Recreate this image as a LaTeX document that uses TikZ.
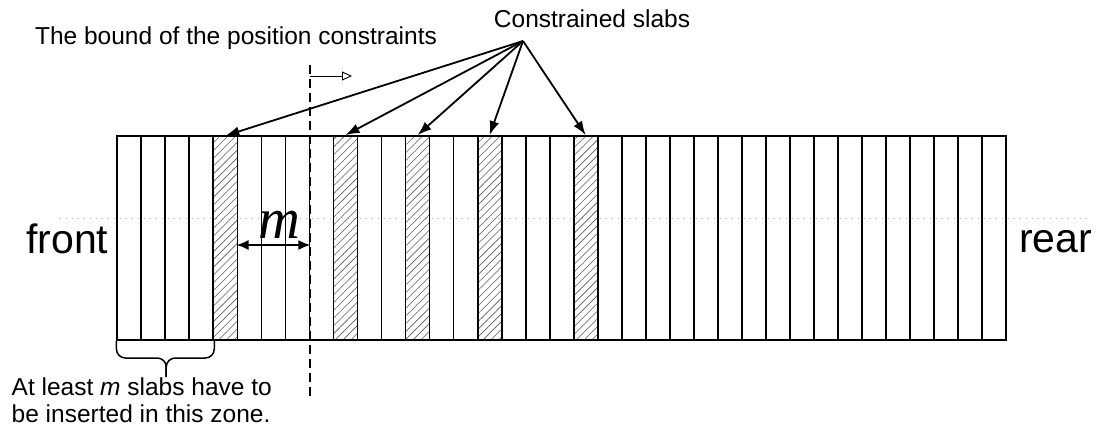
\documentclass[tikz,border=0pt]{standalone}
\usepackage{fontspec}
\setmainfont{Liberation Sans}
\newfontfamily\mfont{Liberation Serif}
\usetikzlibrary{arrows.meta,patterns.meta}

\begin{document}
\begin{tikzpicture}[x=1pt, y=-1pt,
    slab/.style={draw, line width=1.8pt, minimum width=24.02pt, minimum height=204pt, inner sep=0pt},
    hatch/.style={slab, pattern={Lines[angle=45, distance=5.5pt, line width=0.6pt]}, pattern color=black!65},
    lbl/.style={font=\fontsize{24.5}{27}\selectfont, inner sep=0pt},
    side/.style={font=\fontsize{41}{41}\selectfont, inner sep=0pt},
    ptr/.style={line width=1.8pt, -{Latex[length=14pt, width=10pt]}},
    bracket/.style={line width=1.5pt, rounded corners=9pt}
]
\useasboundingbox (0,0) rectangle (1099,434);

% ligne pointillée
\draw[gray!60, line width=0.8pt, dash pattern=on 1pt off 5pt] (60,218) -- (1090,218);

% Tranches
\foreach \i in {0,...,36}
  \node[slab] (s\i) at ({117.3+(\i+0.5)*24.02}, 238) {};
\node[hatch] (h4) at (s4) {};
\node[hatch] (h9) at (s9) {};
\node[hatch] (h12) at (s12) {};
\node[hatch] (h15) at (s15) {};
\node[hatch] (h19) at (s19) {};

\node[side, anchor=base east] (front) at (108.5, 253) {front};
\node[side, anchor=base west] (rear) at (1019, 252) {rear};

% Contraintes
\node[lbl, anchor=base] (cons) at (592, 27) {Constrained slabs};
\coordinate (src) at (523, 41);
\draw[ptr] (src) -- (h4.north);
\draw[ptr] (src) -- (h9.north);
\draw[ptr] (src) -- (h12.north);
\draw[ptr] (src) -- (h15.north);
\draw[ptr] (src) -- (h19.north);

% Borne
\node[lbl, anchor=base] (bound) at (236, 44) {The bound of the position constraints};
\coordinate (btop) at (s7.east |- 0,65);
\coordinate (bbot) at (s7.east |- 0,400);
\draw[line width=1.8pt, dash pattern=on 9pt off 5pt] (btop) -- (bbot);
\coordinate (bkink) at (s7.east |- 0,76);
\coordinate (bdir) at (352, 76);
\draw[line width=0.9pt, -{Triangle[open, length=10pt, width=9pt]}] (bkink) -- (bdir);

% m
\coordinate (mrow) at (0, 245);
\draw[line width=1.8pt, {Latex[length=12pt, width=10pt]}-{Latex[length=12pt, width=10pt]}] (s5.west |- mrow) -- (s7.east |- mrow);
\node[font=\mfont\itshape\fontsize{58}{58}\selectfont, anchor=base, inner sep=0pt] (mlab) at (279, 238) {m};

% Zone
\coordinate (brow) at (0, 358);
\coordinate (btip) at (s1.south east |- 0,377);
\draw[bracket] (s0.south west) -- (s0.south west |- brow) -- (s1.south east |- brow) -- (btip);
\draw[bracket] (s3.south east) -- (s3.south east |- brow) -- (s1.south east |- brow) -- (btip);
\node[lbl, anchor=base west, align=left] (zone) at (11.5, 422) {At least \textit{m} slabs have to\\be inserted in this zone.};
\end{tikzpicture}
\end{document}
